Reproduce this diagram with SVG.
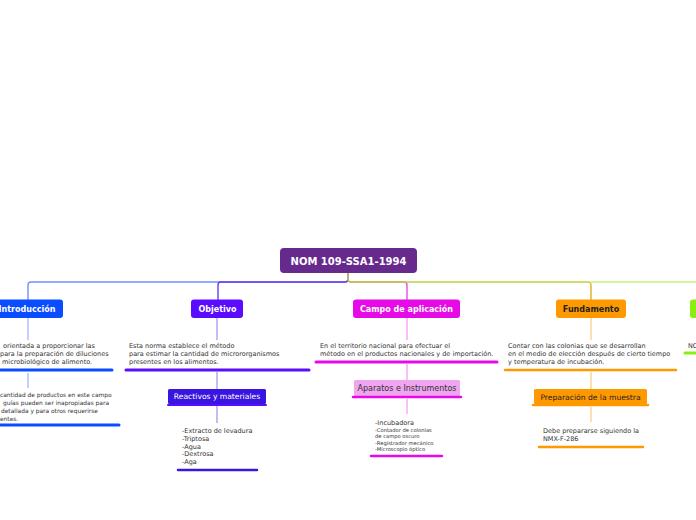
<svg xmlns="http://www.w3.org/2000/svg" width="696" height="520" viewBox="0 0 696 520">
<style>
.lbl{font-family:"DejaVu Sans",Verdana,sans-serif;font-weight:bold;font-size:8px;text-anchor:middle}
.sub{font-family:"DejaVu Sans",Verdana,sans-serif;font-size:7.6px;text-anchor:middle}
.t{font-family:"DejaVu Sans",Verdana,sans-serif;font-size:6.5px;fill:#333}
.s{font-family:"DejaVu Sans",Verdana,sans-serif;font-size:5.9px;fill:#333}
.ul{fill:none;stroke-linecap:round}
.c{fill:none;stroke-width:1.4}
</style>
<rect width="696" height="520" fill="#ffffff"/>
<g id="connectors">
<path class="c" d="M348,273 V279 Q348,282 345,282 H31 Q28,282 28,285 V300" stroke="#7090ff"/>
<path class="c" d="M348,273 V279 Q348,282 345,282 H221 Q218,282 218,285 V300" stroke="#6a3cf0"/>
<path class="c" d="M348,273 V279 Q348,282 351,282 H404 Q407,282 407,285 V300" stroke="#e64de6"/>
<path class="c" d="M348,273 V279 Q348,282 351,282 H588 Q591,282 591,285 V300" stroke="#bcd43c"/>
<path class="c" d="M591,282 H696" stroke="#c6f07e"/>
<path class="c" d="M591,285 V300" stroke="#f5b95a"/>
<path class="c" d="M28,318 V340" stroke="#a8bcff"/>
<path class="c" d="M28,373 V388" stroke="#a8bcff"/>
<path class="c" d="M217,318 V340" stroke="#b49cf5"/>
<path class="c" d="M217,372 V389" stroke="#b49cf5"/>
<path class="c" d="M217,406 V423" stroke="#b49cf5"/>
<path class="c" d="M407,318 V340" stroke="#f5a5f5"/>
<path class="c" d="M407,364 V380" stroke="#f5a5f5"/>
<path class="c" d="M407,399 V414" stroke="#f5a5f5"/>
<path class="c" d="M591,318 V340" stroke="#fbd093"/>
<path class="c" d="M591,372 V389" stroke="#fbd093"/>
<path class="c" d="M591,407 V422" stroke="#fbd093"/>
</g>
<g id="root">
<rect x="280" y="248" width="137" height="25" rx="4" fill="#66298c"/>
<text x="348.5" y="264.5" class="lbl" style="font-size:10px" fill="#fff">NOM 109-SSA1-1994</text>
</g>
<g id="introduccion">
<rect x="-10" y="299.5" width="73" height="18.5" rx="3" fill="#0a4cff"/>
<text x="27" y="312" class="lbl" fill="#fff">Introducción</text>
<text class="t"><tspan x="3" y="347.5">orientada a proporcionar las</tspan><tspan x="0" y="355.5">para la preparación de diluciones</tspan><tspan x="2" y="363.5">microbiológico de alimento.</tspan></text>
<line class="ul" x1="-2" y1="370" x2="112" y2="370" stroke="#0a4cff" stroke-width="3"/>
<text class="s"><tspan x="0" y="397">cantidad de productos en este campo</tspan><tspan x="3" y="405">guías pueden ser inapropiadas para</tspan><tspan x="1" y="413">detallada y para otros requerirse</tspan><tspan x="0" y="420.5">entes.</tspan></text>
<line class="ul" x1="-2" y1="425" x2="119" y2="425" stroke="#0a4cff" stroke-width="3"/>
</g>
<g id="objetivo">
<rect x="191" y="299.5" width="52" height="18.5" rx="3" fill="#5a0cff"/>
<text x="217.5" y="312" class="lbl" fill="#fff">Objetivo</text>
<text class="t"><tspan x="129" y="347.5">Esta norma establece el método</tspan><tspan x="129" y="355.5">para estimar la cantidad de micrororganismos</tspan><tspan x="129" y="363.5">presentes en los alimentos.</tspan></text>
<line class="ul" x1="126" y1="370" x2="309" y2="370" stroke="#5a0cff" stroke-width="3"/>
</g>
<g id="reactivos">
<rect x="168" y="389" width="98" height="15" rx="1.5" fill="#3a14e0"/>
<text x="217" y="399" class="sub" fill="#fff">Reactivos y materiales</text>
<line class="ul" x1="168" y1="405" x2="266" y2="405" stroke="#5a0cff" stroke-width="2"/>
<text class="t"><tspan x="182" y="433">-Extracto de levadura</tspan><tspan x="182" y="441">-Triptosa</tspan><tspan x="182" y="448.5">-Agua</tspan><tspan x="182" y="456">-Dextrosa</tspan><tspan x="182" y="464">-Aga</tspan></text>
<line class="ul" x1="178" y1="470" x2="257" y2="470" stroke="#3a14e0" stroke-width="2.5"/>
</g>
<g id="campo">
<rect x="353" y="299.5" width="107" height="18.5" rx="3" fill="#e60ae6"/>
<text x="406.5" y="312" class="lbl" fill="#fff">Campo de aplicación</text>
<text class="t"><tspan x="320" y="347.5">En el territorio nacional para efectuar el</tspan><tspan x="320" y="355.5">método en el productos nacionales y de importación.</tspan></text>
<line class="ul" x1="316" y1="362" x2="497" y2="362" stroke="#e60ae6" stroke-width="3"/>
</g>
<g id="aparatos">
<rect x="354" y="380" width="106" height="16" rx="1.5" fill="#f0a5f0"/>
<text x="407" y="391" class="sub" style="font-size:8px" fill="#333">Aparatos e Instrumentos</text>
<line class="ul" x1="353" y1="397" x2="461" y2="397" stroke="#e60ae6" stroke-width="2.5"/>
<text x="375" y="425" class="t">-Incubadora</text>
<text class="s" style="font-size:5.2px"><tspan x="375" y="432">-Contador de colonias</tspan><tspan x="375" y="438">de campo oscuro</tspan><tspan x="375" y="444.5">-Registrador mecánico</tspan><tspan x="375" y="451">-Microscopio óptico</tspan></text>
<line class="ul" x1="371" y1="456" x2="442" y2="456" stroke="#e60ae6" stroke-width="2.5"/>
</g>
<g id="fundamento">
<rect x="556" y="299.5" width="70" height="18.5" rx="3" fill="#ff9900"/>
<text x="591" y="312" class="lbl" fill="#222">Fundamento</text>
<text class="t"><tspan x="508" y="347.5">Contar con las colonias que se desarrollan</tspan><tspan x="508" y="355.5">en el medio de elección después de cierto tiempo</tspan><tspan x="508" y="363.5">y temperatura de incubación.</tspan></text>
<line class="ul" x1="505" y1="370" x2="676" y2="370" stroke="#ff9900" stroke-width="2.5"/>
</g>
<g id="preparacion">
<rect x="534" y="389" width="113" height="15" rx="1.5" fill="#ff9900"/>
<text x="590.5" y="399.5" class="sub" fill="#222">Preparación de la muestra</text>
<line class="ul" x1="533" y1="405" x2="648" y2="405" stroke="#ff9900" stroke-width="2.5"/>
<text class="t"><tspan x="543" y="433">Debe prepararse siguiendo la</tspan><tspan x="543" y="441">NMX-F-286</tspan></text>
<line class="ul" x1="539" y1="447" x2="643" y2="447" stroke="#ff9900" stroke-width="2.5"/>
</g>
<g id="nom">
<rect x="690" y="299.5" width="20" height="18.5" rx="3" fill="#88f010"/>
<text x="688" y="347.5" class="t">NC</text>
<line class="ul" x1="685" y1="353" x2="700" y2="353" stroke="#88f010" stroke-width="3"/>
</g>
</svg>
